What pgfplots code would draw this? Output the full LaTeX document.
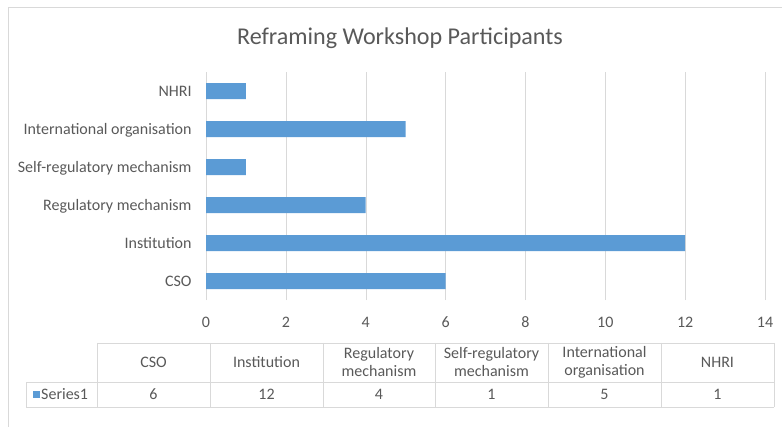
\documentclass[border=0pt]{standalone}
\usepackage{pgfplots}
\pgfplotsset{compat=1.18}
\usepackage{fontspec}
\setmainfont{Carlito}
\definecolor{barblue}{HTML}{5B9BD5}
\definecolor{txt}{HTML}{595959}
\definecolor{gridc}{HTML}{D9D9D9}
\begin{document}
\begin{tikzpicture}[x=1pt,y=1pt]
\useasboundingbox (0,0) rectangle (782,426);
\draw[gridc] (8,-5) -- (8,419) -- (790,419);
\node[text=txt, font=\fontsize{24.1}{28}\selectfont] at (400,388) {Reframing Workshop Participants};
\begin{axis}[at={(206pt,126pt)}, anchor=south west, scale only axis,
  width=559pt, height=228pt,
  xbar, bar width=16pt,
  xmin=0, xmax=14, ymin=-0.5, ymax=5.5,
  xtick={0,2,...,14}, ytick={0,...,5},
  yticklabels={CSO,Institution,Regulatory mechanism,Self-regulatory mechanism,International organisation,NHRI},
  xmajorgrids, grid style={gridc},
  axis line style={draw=none}, tick style={draw=none},
  ticklabel style={font=\fontsize{16}{18}\selectfont, text=txt, inner sep=0pt},
  xticklabel style={anchor=base, yshift=-27pt},
  yticklabel style={anchor=base east, xshift=-10pt, yshift=-5pt},
  /pgf/number format/assume math mode=true,
  clip=false]
\addplot[fill=barblue, draw=none] coordinates {(6,0) (12,1) (4,2) (1,3) (5,4) (1,5)};
\end{axis}
% data table
\begin{scope}[gridc]
\draw (97,83) -- (774,83);
\draw (26,44) -- (774,44);
\draw (26,19) -- (774,19);
\draw (26,44) -- (26,19);
\foreach \x in {97,210,323,435,548,661,774} \draw (\x,83) -- (\x,19);
\end{scope}
\begin{scope}[every node/.style={text=txt, font=\fontsize{16}{18}\selectfont, align=center, inner sep=0pt}]
\node at (153.5,63.5) {CSO};
\node at (266.5,63.5) {Institution};
\node at (379,63.5) {Regulatory\\mechanism};
\node at (491.5,63.5) {Self-regulatory\\mechanism};
\node at (604.5,63.5) {International\\organisation};
\node at (717.5,63.5) {NHRI};
\node[anchor=base] at (153.5,26.5) {6};
\node[anchor=base] at (266.5,26.5) {12};
\node[anchor=base] at (379,26.5) {4};
\node[anchor=base] at (491.5,26.5) {1};
\node[anchor=base] at (604.5,26.5) {5};
\node[anchor=base] at (717.5,26.5) {1};
\node[anchor=base west] at (41,26.5) {Series1};
\end{scope}
\fill[barblue] (33,28) rectangle (40,35);
\end{tikzpicture}
\end{document}
